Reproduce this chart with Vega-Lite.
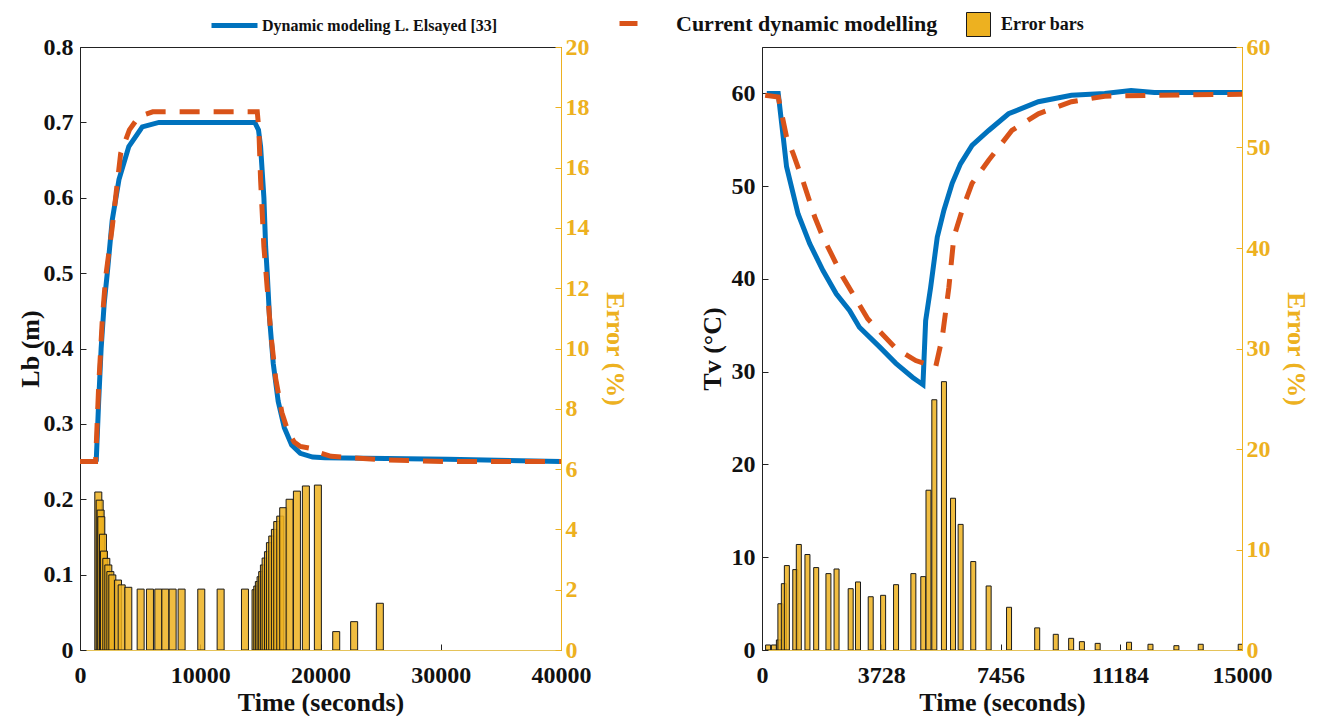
{
  "$schema": "https://vega.github.io/schema/vega-lite/v6.json",
  "background": "white",
  "padding": {"left": 16, "top": 0, "right": 0, "bottom": 0},
  "spacing": 70,
  "config": {
    "font": "Liberation Serif",
    "view": {"stroke": "#222", "strokeWidth": 1},
    "axis": {
      "labelFont": "Liberation Serif", "labelFontWeight": "bold", "labelFontSize": 24, "labelColor": "#111",
      "titleFont": "Liberation Serif", "titleFontWeight": "bold", "titleFontSize": 26, "titleColor": "#111",
      "grid": false, "tickSize": -6, "labelPadding": 13, "domainColor": "#222", "tickColor": "#222", "titlePadding": 4, "labelFlush": false
    },
    "legend": {
      "labelFont": "Liberation Serif", "labelFontWeight": "bold", "labelColor": "#111", "padding": 0, "labelLimit": 0
    }
  },
  "datasets": {
    "lbLines": [
      {"t": 1348, "v": 0.25, "series": "Dynamic modeling L. Elsayed [33]"},
      {"t": 1451, "v": 0.29, "series": "Dynamic modeling L. Elsayed [33]"},
      {"t": 1553, "v": 0.33, "series": "Dynamic modeling L. Elsayed [33]"},
      {"t": 1757, "v": 0.40, "series": "Dynamic modeling L. Elsayed [33]"},
      {"t": 2013, "v": 0.46, "series": "Dynamic modeling L. Elsayed [33]"},
      {"t": 2269, "v": 0.50, "series": "Dynamic modeling L. Elsayed [33]"},
      {"t": 2677, "v": 0.57, "series": "Dynamic modeling L. Elsayed [33]"},
      {"t": 3240, "v": 0.624, "series": "Dynamic modeling L. Elsayed [33]"},
      {"t": 4058, "v": 0.668, "series": "Dynamic modeling L. Elsayed [33]"},
      {"t": 5182, "v": 0.694, "series": "Dynamic modeling L. Elsayed [33]"},
      {"t": 6563, "v": 0.70, "series": "Dynamic modeling L. Elsayed [33]"},
      {"t": 14537, "v": 0.70, "series": "Dynamic modeling L. Elsayed [33]"},
      {"t": 14844, "v": 0.69, "series": "Dynamic modeling L. Elsayed [33]"},
      {"t": 15018, "v": 0.668, "series": "Dynamic modeling L. Elsayed [33]"},
      {"t": 15294, "v": 0.60, "series": "Dynamic modeling L. Elsayed [33]"},
      {"t": 15437, "v": 0.535, "series": "Dynamic modeling L. Elsayed [33]"},
      {"t": 15570, "v": 0.50, "series": "Dynamic modeling L. Elsayed [33]"},
      {"t": 15764, "v": 0.44, "series": "Dynamic modeling L. Elsayed [33]"},
      {"t": 16071, "v": 0.38, "series": "Dynamic modeling L. Elsayed [33]"},
      {"t": 16480, "v": 0.33, "series": "Dynamic modeling L. Elsayed [33]"},
      {"t": 16991, "v": 0.295, "series": "Dynamic modeling L. Elsayed [33]"},
      {"t": 17605, "v": 0.272, "series": "Dynamic modeling L. Elsayed [33]"},
      {"t": 18320, "v": 0.261, "series": "Dynamic modeling L. Elsayed [33]"},
      {"t": 19343, "v": 0.256, "series": "Dynamic modeling L. Elsayed [33]"},
      {"t": 20365, "v": 0.255, "series": "Dynamic modeling L. Elsayed [33]"},
      {"t": 30589, "v": 0.253, "series": "Dynamic modeling L. Elsayed [33]"},
      {"t": 40000, "v": 0.25, "series": "Dynamic modeling L. Elsayed [33]"},
      {"t": 0, "v": 0.25, "series": "Current dynamic modelling"},
      {"t": 1297, "v": 0.25, "series": "Current dynamic modelling"},
      {"t": 1553, "v": 0.35, "series": "Current dynamic modelling"},
      {"t": 1860, "v": 0.44, "series": "Current dynamic modelling"},
      {"t": 2136, "v": 0.495, "series": "Current dynamic modelling"},
      {"t": 2688, "v": 0.562, "series": "Current dynamic modelling"},
      {"t": 3383, "v": 0.659, "series": "Current dynamic modelling"},
      {"t": 4109, "v": 0.69, "series": "Current dynamic modelling"},
      {"t": 4906, "v": 0.708, "series": "Current dynamic modelling"},
      {"t": 6051, "v": 0.714, "series": "Current dynamic modelling"},
      {"t": 14742, "v": 0.714, "series": "Current dynamic modelling"},
      {"t": 14875, "v": 0.69, "series": "Current dynamic modelling"},
      {"t": 15018, "v": 0.624, "series": "Current dynamic modelling"},
      {"t": 15294, "v": 0.535, "series": "Current dynamic modelling"},
      {"t": 15570, "v": 0.48, "series": "Current dynamic modelling"},
      {"t": 15866, "v": 0.42, "series": "Current dynamic modelling"},
      {"t": 16275, "v": 0.36, "series": "Current dynamic modelling"},
      {"t": 16786, "v": 0.315, "series": "Current dynamic modelling"},
      {"t": 17298, "v": 0.29, "series": "Current dynamic modelling"},
      {"t": 17809, "v": 0.276, "series": "Current dynamic modelling"},
      {"t": 18320, "v": 0.27, "series": "Current dynamic modelling"},
      {"t": 19343, "v": 0.267, "series": "Current dynamic modelling"},
      {"t": 19854, "v": 0.262, "series": "Current dynamic modelling"},
      {"t": 20876, "v": 0.257, "series": "Current dynamic modelling"},
      {"t": 25477, "v": 0.252, "series": "Current dynamic modelling"},
      {"t": 30589, "v": 0.25, "series": "Current dynamic modelling"},
      {"t": 40000, "v": 0.25, "series": "Current dynamic modelling"}
    ],
    "lbErr": [
      {"t": 1522, "e": 5.24}, {"t": 1635, "e": 4.97}, {"t": 1716, "e": 4.64}, {"t": 1773, "e": 4.42},
      {"t": 1911, "e": 3.84}, {"t": 1993, "e": 3.28}, {"t": 2187, "e": 3.04}, {"t": 2355, "e": 2.82},
      {"t": 2524, "e": 2.6}, {"t": 2688, "e": 2.49}, {"t": 3158, "e": 2.32}, {"t": 3465, "e": 2.16},
      {"t": 4017, "e": 2.08},
      {"t": 5044, "e": 2.02}, {"t": 5818, "e": 2.02}, {"t": 6512, "e": 2.02}, {"t": 7094, "e": 2.02},
      {"t": 7703, "e": 2.02}, {"t": 8449, "e": 2.02}, {"t": 10085, "e": 2.02}, {"t": 11695, "e": 2.02},
      {"t": 13719, "e": 2.02},
      {"t": 14599, "e": 2.0}, {"t": 14742, "e": 2.12}, {"t": 14875, "e": 2.27}, {"t": 15018, "e": 2.43},
      {"t": 15151, "e": 2.6}, {"t": 15294, "e": 2.82}, {"t": 15437, "e": 3.05}, {"t": 15631, "e": 3.26},
      {"t": 15795, "e": 3.56}, {"t": 15989, "e": 3.78}, {"t": 16209, "e": 4.0}, {"t": 16403, "e": 4.26},
      {"t": 16653, "e": 4.44}, {"t": 16899, "e": 4.72}, {"t": 17430, "e": 5.0}, {"t": 18039, "e": 5.27},
      {"t": 18785, "e": 5.44}, {"t": 19782, "e": 5.47},
      {"t": 21306, "e": 0.61}, {"t": 22798, "e": 0.94}, {"t": 24935, "e": 1.55}
    ],
    "tvLines": [
      {"t": 150, "v": 60.0, "series": "Dynamic modeling L. Elsayed [33]"},
      {"t": 507, "v": 60.0, "series": "Dynamic modeling L. Elsayed [33]"},
      {"t": 663, "v": 55.3, "series": "Dynamic modeling L. Elsayed [33]"},
      {"t": 767, "v": 52.1, "series": "Dynamic modeling L. Elsayed [33]"},
      {"t": 1128, "v": 47.0, "series": "Dynamic modeling L. Elsayed [33]"},
      {"t": 1491, "v": 43.8, "series": "Dynamic modeling L. Elsayed [33]"},
      {"t": 1905, "v": 40.9, "series": "Dynamic modeling L. Elsayed [33]"},
      {"t": 2320, "v": 38.4, "series": "Dynamic modeling L. Elsayed [33]"},
      {"t": 2734, "v": 36.6, "series": "Dynamic modeling L. Elsayed [33]"},
      {"t": 3044, "v": 34.8, "series": "Dynamic modeling L. Elsayed [33]"},
      {"t": 3666, "v": 32.7, "series": "Dynamic modeling L. Elsayed [33]"},
      {"t": 4184, "v": 30.9, "series": "Dynamic modeling L. Elsayed [33]"},
      {"t": 4700, "v": 29.4, "series": "Dynamic modeling L. Elsayed [33]"},
      {"t": 5030, "v": 28.6, "series": "Dynamic modeling L. Elsayed [33]"},
      {"t": 5114, "v": 35.5, "series": "Dynamic modeling L. Elsayed [33]"},
      {"t": 5270, "v": 39.1, "series": "Dynamic modeling L. Elsayed [33]"},
      {"t": 5477, "v": 44.5, "series": "Dynamic modeling L. Elsayed [33]"},
      {"t": 5685, "v": 47.4, "series": "Dynamic modeling L. Elsayed [33]"},
      {"t": 5943, "v": 50.3, "series": "Dynamic modeling L. Elsayed [33]"},
      {"t": 6202, "v": 52.4, "series": "Dynamic modeling L. Elsayed [33]"},
      {"t": 6564, "v": 54.4, "series": "Dynamic modeling L. Elsayed [33]"},
      {"t": 7083, "v": 56.0, "series": "Dynamic modeling L. Elsayed [33]"},
      {"t": 7705, "v": 57.8, "series": "Dynamic modeling L. Elsayed [33]"},
      {"t": 8636, "v": 59.1, "series": "Dynamic modeling L. Elsayed [33]"},
      {"t": 9671, "v": 59.8, "series": "Dynamic modeling L. Elsayed [33]"},
      {"t": 10708, "v": 60.0, "series": "Dynamic modeling L. Elsayed [33]"},
      {"t": 11534, "v": 60.3, "series": "Dynamic modeling L. Elsayed [33]"},
      {"t": 12260, "v": 60.1, "series": "Dynamic modeling L. Elsayed [33]"},
      {"t": 15000, "v": 60.1, "series": "Dynamic modeling L. Elsayed [33]"},
      {"t": 100, "v": 59.8, "series": "Current dynamic modelling"},
      {"t": 507, "v": 59.6, "series": "Current dynamic modelling"},
      {"t": 767, "v": 55.3, "series": "Current dynamic modelling"},
      {"t": 974, "v": 53.5, "series": "Current dynamic modelling"},
      {"t": 1285, "v": 50.5, "series": "Current dynamic modelling"},
      {"t": 1646, "v": 46.7, "series": "Current dynamic modelling"},
      {"t": 1905, "v": 44.5, "series": "Current dynamic modelling"},
      {"t": 2526, "v": 40.2, "series": "Current dynamic modelling"},
      {"t": 3303, "v": 35.7, "series": "Current dynamic modelling"},
      {"t": 4184, "v": 32.5, "series": "Current dynamic modelling"},
      {"t": 4805, "v": 31.2, "series": "Current dynamic modelling"},
      {"t": 5426, "v": 30.5, "series": "Current dynamic modelling"},
      {"t": 5633, "v": 33.7, "series": "Current dynamic modelling"},
      {"t": 5840, "v": 39.1, "series": "Current dynamic modelling"},
      {"t": 5995, "v": 44.5, "series": "Current dynamic modelling"},
      {"t": 6254, "v": 47.4, "series": "Current dynamic modelling"},
      {"t": 6564, "v": 50.3, "series": "Current dynamic modelling"},
      {"t": 7083, "v": 52.8, "series": "Current dynamic modelling"},
      {"t": 7808, "v": 56.0, "series": "Current dynamic modelling"},
      {"t": 8636, "v": 57.8, "series": "Current dynamic modelling"},
      {"t": 9671, "v": 59.1, "series": "Current dynamic modelling"},
      {"t": 10708, "v": 59.7, "series": "Current dynamic modelling"},
      {"t": 12260, "v": 59.8, "series": "Current dynamic modelling"},
      {"t": 15000, "v": 59.9, "series": "Current dynamic modelling"}
    ],
    "tvErr": [
      {"t": 190, "e": 0.5}, {"t": 373, "e": 0.5}, {"t": 528, "e": 1.0}, {"t": 575, "e": 4.6},
      {"t": 683, "e": 6.6}, {"t": 777, "e": 8.4}, {"t": 1040, "e": 8.0}, {"t": 1150, "e": 10.5},
      {"t": 1420, "e": 9.5}, {"t": 1693, "e": 8.2}, {"t": 2076, "e": 7.6}, {"t": 2330, "e": 8.06},
      {"t": 2771, "e": 6.1}, {"t": 3000, "e": 6.77}, {"t": 3397, "e": 5.3}, {"t": 3785, "e": 5.44},
      {"t": 4189, "e": 6.5}, {"t": 4730, "e": 7.6}, {"t": 5040, "e": 7.3}, {"t": 5203, "e": 15.9},
      {"t": 5385, "e": 24.9}, {"t": 5686, "e": 26.7}, {"t": 5970, "e": 15.1}, {"t": 6207, "e": 12.5},
      {"t": 6602, "e": 8.8}, {"t": 7083, "e": 6.37}, {"t": 7720, "e": 4.25}, {"t": 8600, "e": 2.2},
      {"t": 9180, "e": 1.56}, {"t": 9661, "e": 1.16}, {"t": 9997, "e": 0.83}, {"t": 10490, "e": 0.66},
      {"t": 11470, "e": 0.77}, {"t": 12140, "e": 0.57}, {"t": 12950, "e": 0.43}, {"t": 13710, "e": 0.57},
      {"t": 14960, "e": 0.57}
    ]
  },
  "hconcat": [
    {
      "width": 481,
      "height": 603,
      "layer": [
        {
          "data": {"name": "lbErr"},
          "mark": {"type": "bar", "orient": "vertical", "size": 7, "stroke": "#1a1a1a", "strokeWidth": 1, "fillOpacity": 0.85, "clip": true},
          "encoding": {
            "x": {"field": "t", "type": "quantitative", "scale": {"domain": [0, 40000], "nice": false, "padding": 0}, "axis": {"values": [0, 10000, 20000, 30000, 40000], "format": "d", "title": "Time (seconds)", "domainColor": "#E5C35A", "labelPadding": 19, "titlePadding": 2, "labelFlush": false}},
            "y": {"field": "e", "type": "quantitative", "scale": {"domain": [0, 20], "nice": false}, "axis": {"orient": "right", "values": [0, 2, 4, 6, 8, 10, 12, 14, 16, 18, 20], "title": "Error (%)", "labelColor": "#EDB120", "titleColor": "#EDB120", "domainColor": "#EDB120", "tickColor": "#EDB120", "labelPadding": 10, "titlePadding": 12}},
            "fill": {"datum": "Error bars", "type": "nominal", "scale": {"domain": ["Error bars"], "range": ["#EDB120"]},
              "legend": {"orient": "none", "legendX": 886, "legendY": -35, "title": null, "symbolType": "square", "symbolSize": 576, "symbolStrokeColor": "#1a1a1a", "symbolStrokeWidth": 1, "symbolOpacity": 1, "labelFontSize": 18, "labelOffset": 10,
                "encode": {"symbols": {"update": {"stroke": {"value": "#1a1a1a"}, "strokeWidth": {"value": 1}, "fill": {"value": "#EDB120"}, "fillOpacity": {"value": 1}}}}}}
          }
        },
        {
          "data": {"name": "lbLines"},
          "transform": [{"filter": "datum.series === 'Dynamic modeling L. Elsayed [33]'"}],
          "mark": {"type": "line", "strokeWidth": 5, "clip": true},
          "encoding": {
            "x": {"field": "t", "type": "quantitative", "scale": {"domain": [0, 40000], "nice": false, "padding": 0}},
            "y": {"field": "v", "type": "quantitative", "scale": {"domain": [0, 0.8], "nice": false}, "axis": {"orient": "left", "values": [0, 0.1, 0.2, 0.3, 0.4, 0.5, 0.6, 0.7, 0.8], "format": ".1~f", "title": "Lb (m)", "titlePadding": 0}},
            "color": {"field": "series", "type": "nominal", "scale": {"domain": ["Dynamic modeling L. Elsayed [33]"], "range": ["#0072BD"]},
              "legend": {"orient": "none", "legendX": 129, "legendY": -47, "title": null, "symbolType": "stroke", "symbolSize": 2116, "symbolStrokeWidth": 5, "labelFontSize": 16, "labelOffset": 2}}
          }
        },
        {
          "data": {"name": "lbLines"},
          "transform": [{"filter": "datum.series === 'Current dynamic modelling'"}],
          "mark": {"type": "line", "strokeWidth": 5, "strokeDash": [20, 14], "clip": true},
          "encoding": {
            "x": {"field": "t", "type": "quantitative", "scale": {"domain": [0, 40000], "nice": false, "padding": 0}},
            "y": {"field": "v", "type": "quantitative", "scale": {"domain": [0, 0.8], "nice": false}, "axis": null},
            "stroke": {"field": "series", "type": "nominal", "scale": {"domain": ["Current dynamic modelling"], "range": ["#D95319"]},
              "legend": {"orient": "none", "legendX": 537, "legendY": -35, "title": null, "symbolType": "stroke", "symbolSize": 324, "symbolStrokeWidth": 5, "symbolDash": [1, 0], "labelFontSize": 22, "labelOffset": 36}}
          }
        }
      ],
      "resolve": {"scale": {"y": "independent"}}
    },
    {
      "width": 480,
      "height": 603,
      "layer": [
        {
          "data": {"name": "tvErr"},
          "mark": {"type": "bar", "orient": "vertical", "size": 5, "stroke": "#1a1a1a", "strokeWidth": 1, "fillOpacity": 0.85, "clip": true},
          "encoding": {
            "x": {"field": "t", "type": "quantitative", "scale": {"domain": [0, 15000], "nice": false, "padding": 0}, "axis": {"values": [0, 3728, 7456, 11184, 15000], "format": "d", "title": "Time (seconds)", "domainColor": "#E5C35A", "labelPadding": 19, "titlePadding": 2, "labelFlush": false}},
            "y": {"field": "e", "type": "quantitative", "scale": {"domain": [0, 60], "nice": false}, "axis": {"orient": "right", "values": [0, 10, 20, 30, 40, 50, 60], "title": "Error (%)", "labelColor": "#EDB120", "titleColor": "#EDB120", "domainColor": "#EDB120", "tickColor": "#EDB120", "labelPadding": 10, "titlePadding": 12}},
            "fill": {"datum": "Error bars", "type": "nominal"}
          }
        },
        {
          "data": {"name": "tvLines"},
          "transform": [{"filter": "datum.series === 'Dynamic modeling L. Elsayed [33]'"}],
          "mark": {"type": "line", "strokeWidth": 5, "clip": true},
          "encoding": {
            "x": {"field": "t", "type": "quantitative", "scale": {"domain": [0, 15000], "nice": false, "padding": 0}},
            "y": {"field": "v", "type": "quantitative", "scale": {"domain": [0, 65], "nice": false}, "axis": {"orient": "left", "values": [0, 10, 20, 30, 40, 50, 60], "title": "Tv (°C)", "titlePadding": 6}},
            "color": {"field": "series", "type": "nominal"}
          }
        },
        {
          "data": {"name": "tvLines"},
          "transform": [{"filter": "datum.series === 'Current dynamic modelling'"}],
          "mark": {"type": "line", "strokeWidth": 5, "strokeDash": [20, 14], "clip": true},
          "encoding": {
            "x": {"field": "t", "type": "quantitative", "scale": {"domain": [0, 15000], "nice": false, "padding": 0}},
            "y": {"field": "v", "type": "quantitative", "scale": {"domain": [0, 65], "nice": false}, "axis": null},
            "stroke": {"field": "series", "type": "nominal"}
          }
        }
      ],
      "resolve": {"scale": {"y": "independent"}}
    }
  ],
  "resolve": {"scale": {"color": "shared", "stroke": "shared", "fill": "shared"}}
}
